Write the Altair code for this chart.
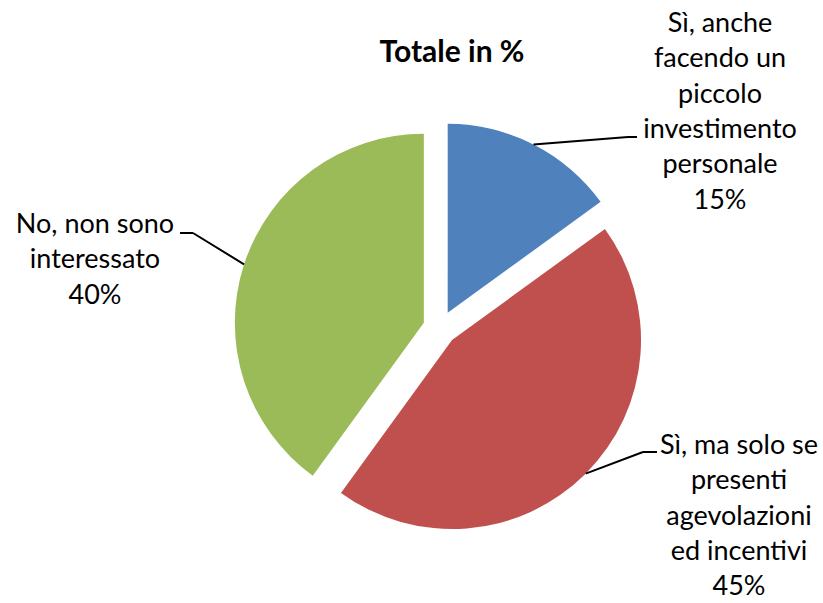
import altair as alt
import pandas as pd

# Survey answers (clockwise from 12 o'clock) and their shares in %
categories = [
    "Sì, anche\nfacendo un\npiccolo\ninvestimento\npersonale",
    "Sì, ma solo se\npresenti\nagevolazioni\ned incentivi",
    "No, non sono\ninteressato",
]
values = [15, 45, 40]
colors = ["#4F81BD", "#C0504D", "#9BBB59"]
title_text = "Totale in %"

# Layout (pixels): pie centre, radius, explosion distance
W, H = 823, 603
CX, CY, R, EXPLODE = 440, 328, 189, 17
# label anchor (centre x, first baseline) and leader-line elbow / end per slice
label_xy = [(720, 32), (739, 454), (95, 233)]
elbow_xy = [(628, 137), (643, 452), (193, 233)]
end_xy = [(637, 137), (657, 452), (180, 233)]
FONT = "Lato"

df = pd.DataFrame({
    "category": categories,
    "value": values,
    "order": list(range(len(values))),
    "lx": [p[0] for p in label_xy],
    "ly": [p[1] for p in label_xy],
    "bx": [p[0] for p in elbow_xy],
    "by": [p[1] for p in elbow_xy],
    "tx": [p[0] for p in end_xy],
    "ty": [p[1] for p in end_xy],
})

base = (
    alt.Chart(df)
    .transform_joinaggregate(total="sum(value)")
    .transform_window(cum="sum(value)", sort=[alt.SortField("order")], frame=[None, 0])
    .transform_calculate(mid="2 * PI * (datum.cum - datum.value / 2) / datum.total")
    .transform_calculate(
        px=f"{CX} + {EXPLODE} * sin(datum.mid)",
        py=f"{CY} - {EXPLODE} * cos(datum.mid)",
    )
    .transform_calculate(
        ex=f"datum.px + {R} * sin(datum.mid)",
        ey=f"datum.py - {R} * cos(datum.mid)",
        label="datum.category + '\\n' + datum.value + '%'",
    )
)

slices = base.mark_arc(radius=R, stroke=None).encode(
    theta=alt.Theta("value:Q", stack=True),
    order=alt.Order("order:O"),
    color=alt.Color("category:N", scale=alt.Scale(domain=categories, range=colors), legend=None),
    x=alt.X("px:Q", scale=None),
    y=alt.Y("py:Q", scale=None),
)

leader_a = base.mark_rule(color="black", strokeWidth=2).encode(
    x=alt.X("ex:Q", scale=None), y=alt.Y("ey:Q", scale=None),
    x2="bx:Q", y2="by:Q",
)
leader_b = base.mark_rule(color="black", strokeWidth=2).encode(
    x=alt.X("bx:Q", scale=None), y=alt.Y("by:Q", scale=None),
    x2="tx:Q", y2="ty:Q",
)

labels = base.mark_text(
    font=FONT, fontSize=27, lineBreak="\n", lineHeight=35.3,
    align="center", baseline="alphabetic", color="black",
).encode(
    x=alt.X("lx:Q", scale=None), y=alt.Y("ly:Q", scale=None), text="label:N",
)

title = alt.Chart(pd.DataFrame({"t": [title_text]})).mark_text(
    font=FONT, fontSize=30, fontWeight="bold", align="center", baseline="alphabetic", color="black",
).encode(x=alt.value(452), y=alt.value(62), text="t:N")

chart = (
    alt.layer(slices, leader_a, leader_b, labels, title)
    .properties(width=W, height=H, padding=0, autosize="none", background="white")
    .configure_view(stroke=None)
)

chart.save("out.html", embed_options={"renderer": "svg", "actions": False})
